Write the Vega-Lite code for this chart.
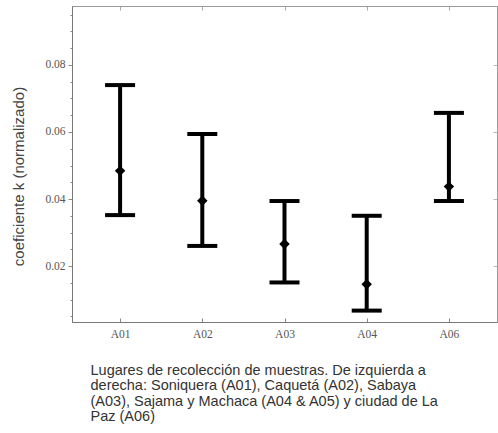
{
  "$schema": "https://vega.github.io/schema/vega-lite/v6.json",
  "width": 425,
  "height": 316,
  "autosize": {"type": "none"},
  "padding": {"left": 72, "top": 6, "right": 1, "bottom": 111},
  "background": "white",
  "config": {
    "view": {"stroke": "#999999", "strokeWidth": 1},
    "axis": {
      "labelFont": "Liberation Serif",
      "labelFontSize": 11.5,
      "labelColor": "#555555",
      "domainColor": "#777777",
      "tickColor": "#888888",
      "grid": false
    }
  },
  "data": {
    "values": [
      {"site": "A01", "low": 0.0352, "mean": 0.0484, "high": 0.0740},
      {"site": "A02", "low": 0.0260, "mean": 0.0395, "high": 0.0594},
      {"site": "A03", "low": 0.0151, "mean": 0.0266, "high": 0.0394},
      {"site": "A04", "low": 0.0067, "mean": 0.0146, "high": 0.0350},
      {"site": "A06", "low": 0.0394, "mean": 0.0437, "high": 0.0657}
    ]
  },
  "resolve": {"axis": {"x": "independent", "y": "independent"}},
  "layer": [
    {
      "mark": {"type": "rule", "color": "black", "strokeWidth": 4},
      "encoding": {
        "x": {
          "field": "site",
          "type": "nominal",
          "sort": null,
          "scale": {"type": "point", "padding": 0.585},
          "axis": {
            "labelAngle": 0,
            "tickSize": -4,
            "labelPadding": 10,
            "title": [
              "Lugares de recolección de muestras. De izquierda a",
              "derecha: Soniquera (A01), Caquetá (A02), Sabaya",
              "(A03), Sajama y Machaca (A04 & A05) y ciudad de La",
              "Paz (A06)"
            ],
            "titleFont": "Liberation Sans",
            "titleFontSize": 14.5,
            "titleFontWeight": "normal",
            "titleColor": "#333333",
            "titleAlign": "left",
            "titleBaseline": "top",
            "titleAnchor": "start",
            "titleX": 18,
            "titleY": 41,
            "titleLineHeight": 15.5
          }
        },
        "y": {
          "field": "low",
          "type": "quantitative",
          "scale": {"domain": [0.0033, 0.0976], "nice": false, "zero": false},
          "axis": {
            "values": [0.005, 0.01, 0.015, 0.02, 0.025, 0.03, 0.035, 0.04, 0.045, 0.05, 0.055, 0.06, 0.065, 0.07, 0.075, 0.08, 0.085, 0.09, 0.095],
            "tickCount": 40,
            "labelExpr": "(abs(datum.value - 0.02) < 0.001 || abs(datum.value - 0.04) < 0.001 || abs(datum.value - 0.06) < 0.001 || abs(datum.value - 0.08) < 0.001) ? format(datum.value, '.2f') : ''",
            "labelOverlap": false,
            "tickSize": {"condition": {"test": "abs(datum.value*50 - round(datum.value*50)) < 0.001", "value": 4}, "value": 2},
            "labelPadding": 3,
            "title": "coeficiente k (normalizado)",
            "titleFont": "Liberation Sans",
            "titleFontSize": 15,
            "titleFontWeight": "normal",
            "titleColor": "#444444",
            "titleAngle": -90,
            "titleX": -54,
            "titleY": 170,
            "titleAlign": "center",
            "titleBaseline": "middle"
          }
        },
        "y2": {"field": "high"}
      }
    },
    {
      "mark": {"type": "tick", "color": "black", "opacity": 1, "orient": "horizontal", "size": 30, "thickness": 4},
      "encoding": {
        "x": {"field": "site", "type": "nominal", "sort": null, "axis": {"orient": "top", "labels": false, "title": null, "tickSize": -4, "domainColor": "#999999", "tickColor": "#aaaaaa"}},
        "y": {"field": "low", "type": "quantitative", "axis": {"orient": "right", "labels": false, "title": null, "values": [0.02, 0.04, 0.06, 0.08], "tickSize": -4, "domainColor": "#999999", "tickColor": "#bbbbbb"}}
      }
    },
    {
      "mark": {"type": "tick", "color": "black", "opacity": 1, "orient": "horizontal", "size": 30, "thickness": 4},
      "encoding": {
        "x": {"field": "site", "type": "nominal", "sort": null, "axis": null},
        "y": {"field": "high", "type": "quantitative", "axis": null}
      }
    },
    {
      "mark": {"type": "point", "shape": "diamond", "filled": true, "color": "black", "opacity": 1, "size": 110},
      "encoding": {
        "x": {"field": "site", "type": "nominal", "sort": null, "axis": null},
        "y": {"field": "mean", "type": "quantitative", "axis": null}
      }
    }
  ]
}
